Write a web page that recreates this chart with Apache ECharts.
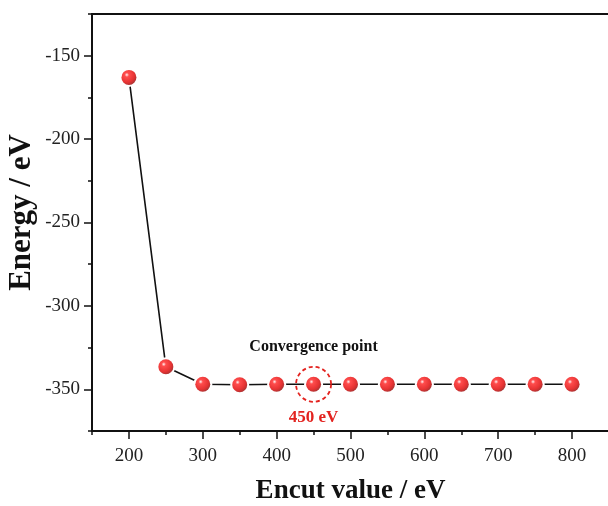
<!DOCTYPE html>
<html><head><meta charset="utf-8">
<script src="https://cdn.jsdelivr.net/npm/echarts@6/dist/echarts.min.js"></script>
<style>html,body{margin:0;padding:0;background:#fff}#c{width:608px;height:506px}</style>
</head><body><div id="c"></div>
<script>
const encut = [200,250,300,350,400,450,500,550,600,650,700,750,800];
const energy = [-163,-336.5,-347,-347.3,-347,-347,-347,-347,-347,-347,-347,-347,-347];
const xTicks = [200,300,400,500,600,700,800];
const yTicks = [-350,-300,-250,-200,-150];
const convX = 450, convY = -347;

const font = '"Liberation Serif","Times New Roman",serif';
const sphere = {type:'radial',x:0.36,y:0.33,r:0.72,colorStops:[
  {offset:0,color:'#fff0f0'},{offset:0.2,color:'#ff2020'},{offset:0.7,color:'#e00000'},{offset:1,color:'#900000'}]};
const pts = encut.map((x,i)=>[x,energy[i]]);

const chart = echarts.init(document.getElementById('c'));
chart.setOption({
  animation:false,
  grid:{left:92,top:14,width:517,height:417,show:true,borderColor:'#111',borderWidth:2,backgroundColor:'transparent',
    containLabel:false,outerBoundsMode:'none'},
  xAxis:[{
    type:'value',min:150,max:850,
    name:'Encut value / eV',nameLocation:'middle',nameGap:47,
    nameTextStyle:{fontFamily:font,fontWeight:'bold',fontSize:27,color:'#111'},
    axisLine:{show:true,lineStyle:{color:'#111',width:2}},
    axisTick:{show:true,length:8,lineStyle:{color:'#111',width:1.5},customValues:xTicks},
    axisLabel:{fontFamily:font,fontSize:19,color:'#222',margin:16,customValues:xTicks},
    splitLine:{show:false}
  },{
    type:'value',min:150,max:850,interval:50,position:'bottom',gridIndex:0,
    axisLine:{show:false},axisTick:{show:true,length:4,lineStyle:{color:'#111',width:1.5}},
    axisLabel:{show:false},splitLine:{show:false}
  }],
  yAxis:[{
    type:'value',min:-375,max:-125,
    axisLine:{show:true,lineStyle:{color:'#111',width:2}},
    axisTick:{show:true,length:8,lineStyle:{color:'#111',width:1.5},customValues:yTicks},
    axisLabel:{fontFamily:font,fontSize:19,color:'#222',margin:12,customValues:yTicks},
    splitLine:{show:false}
  },{
    type:'value',min:-375,max:-125,interval:25,position:'left',gridIndex:0,
    name:'Energy / eV',nameLocation:'middle',nameGap:55,nameRotate:90,
    nameTextStyle:{fontFamily:font,fontWeight:'bold',fontSize:31,lineHeight:31,color:'#111',padding:[0,0,0,20]},
    axisLine:{show:false},axisTick:{show:true,length:4,lineStyle:{color:'#111',width:1.5}},
    axisLabel:{show:false},splitLine:{show:false}
  }],
  series:[{
    type:'line',data:pts,
    symbol:'circle',symbolSize:19,
    lineStyle:{color:'#111',width:1.6},
    itemStyle:{color:'#fff',borderWidth:0},
    z:2,
    markPoint:{
      silent:true,
      data:[
        {coord:[convX,convY],symbol:'circle',symbolSize:35,
          itemStyle:{color:'transparent',borderColor:'#e3231f',borderWidth:1.8,borderType:[4,3]},
          label:{show:true,position:'top',distance:11,formatter:'Convergence point',
            fontFamily:font,fontWeight:'bold',fontSize:16,color:'#111'}},
        {coord:[convX,convY],symbol:'circle',symbolSize:35,
          itemStyle:{color:'transparent',borderWidth:0},
          label:{show:true,position:'bottom',distance:7,formatter:'450 eV',
            fontFamily:font,fontWeight:'bold',fontSize:17,color:'#e3231f'}}
      ]
    }
  },{
    type:'scatter',data:pts,symbol:'circle',symbolSize:15,
    itemStyle:{color:sphere},z:3
  }]
});
</script></body></html>
